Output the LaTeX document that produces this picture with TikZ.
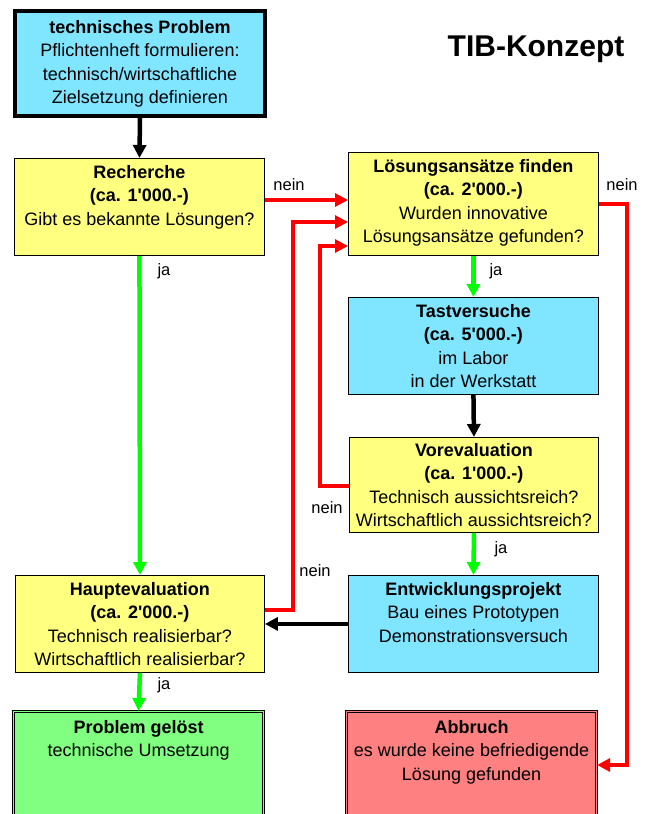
\documentclass[tikz,border=0pt]{standalone}
\usepackage{fontspec}
\setmainfont{Liberation Sans}
\usetikzlibrary{arrows.meta}
\definecolor{bcyan}{RGB}{128,229,255}
\definecolor{byellow}{RGB}{255,255,128}
\definecolor{bgreen}{RGB}{128,255,128}
\definecolor{bred}{RGB}{255,128,128}
\definecolor{lred}{RGB}{255,0,0}
\definecolor{lgreen}{RGB}{0,255,0}
\newcommand{\ap}{\textquotesingle}
\begin{document}
\begin{tikzpicture}[x=1pt,y=-1pt,
  boxbase/.style={rectangle,draw=black,line width=0.9pt,inner sep=0pt,anchor=north west},
  ybox/.style={boxbase,fill=byellow},
  cbox/.style={boxbase,fill=bcyan},
  dbox/.style={boxbase,line width=1.1pt,double distance=1.4pt},
  txt/.style={inner sep=0pt,anchor=north,align=center,font=\fontsize{18}{23.5}\selectfont},
  lab/.style={inner sep=0pt,anchor=base,font=\fontsize{16.5}{20}\selectfont},
  conn/.style={line width=4.5pt,-{Triangle[length=13pt,width=13pt]}},
  redc/.style={conn,draw=lred,color=lred},
  greenc/.style={conn,draw=lgreen,color=lgreen},
  blackc/.style={conn,draw=black}]
\useasboundingbox (0,0) rectangle (645,814);
\clip (0,0) rectangle (645,814);
\fill[white] (0,0) rectangle (645,814);

% boxes
\node[boxbase,fill=bcyan,line width=4pt,minimum width=250pt,minimum height=105pt] (prob) at (13,9) {};
\node[ybox,minimum width=250pt,minimum height=97pt] (rech) at (14,158) {};
\node[ybox,minimum width=250pt,minimum height=103pt] (loes) at (348,152) {};
\node[cbox,minimum width=250pt,minimum height=97pt] (tast) at (348,297) {};
\node[ybox,minimum width=249pt,minimum height=95pt] (vore) at (349,437) {};
\node[cbox,minimum width=250pt,minimum height=97pt] (entw) at (348,575) {};
\node[ybox,minimum width=249pt,minimum height=97pt] (haupt) at (15,575) {};
\node[dbox,fill=bgreen,double=bgreen,minimum width=250pt,minimum height=130pt] (geloest) at (13,711) {};
\node[dbox,fill=bred,double=bred,minimum width=250pt,minimum height=130pt] (abb) at (346,711) {};

% texts
\node[txt] (probT) at ([yshift=-11pt]prob.north) {\textbf{technisches Problem}\\Pflichtenheft formulieren:\\technisch/wirtschaftliche\\Zielsetzung definieren};
\node[txt] (rechT) at ([yshift=-7pt]rech.north) {\textbf{Recherche}\\\textbf{(ca. 1\ap000.-)}\\Gibt es bekannte Lösungen?};
\node[txt] (loesT) at ([yshift=-7pt]loes.north) {\textbf{Lösungsansätze finden}\\\textbf{(ca. 2\ap000.-)}\\Wurden innovative\\Lösungsansätze gefunden?};
\node[txt] (tastT) at ([yshift=-7pt]tast.north) {\textbf{Tastversuche}\\\textbf{(ca. 5\ap000.-)}\\im Labor\\in der Werkstatt};
\node[txt] (voreT) at ([yshift=-6pt]vore.north) {\textbf{Vorevaluation}\\\textbf{(ca. 1\ap000.-)}\\Technisch aussichtsreich?\\Wirtschaftlich aussichtsreich?};
\node[txt] (entwT) at ([yshift=-7pt]entw.north) {\textbf{Entwicklungsprojekt}\\Bau eines Prototypen\\Demonstrationsversuch};
\node[txt] (hauptT) at ([yshift=-7pt]haupt.north) {\textbf{Hauptevaluation}\\\textbf{(ca. 2\ap000.-)}\\Technisch realisierbar?\\Wirtschaftlich realisierbar?};
\node[txt] (geloestT) at ([yshift=-9pt]geloest.north) {\textbf{Problem gelöst}\\technische Umsetzung};
\node[txt] (abbT) at ([yshift=-9pt]abb.north) {\textbf{Abbruch}\\es wurde keine befriedigende\\Lösung gefunden};

\node[inner sep=0pt,anchor=base,font=\fontsize{30}{36}\selectfont\bfseries] (title) at (536,56) {TIB-Konzept};

% helper coordinates
\coordinate (y1) at (0,200);
\coordinate (y2) at (0,610);
\coordinate (c2) at (293,222);
\coordinate (y3) at (0,486);
\coordinate (c3) at (320,246);
\coordinate (c4) at (627,765);

% connectors
\draw[blackc] (prob.south) -- (rech.north);
\draw[greenc] (rech.south) -- (haupt.north);
\draw[redc] (rech.east |- y1) -- (loes.west |- y1);
\draw[redc] (haupt.east |- y2) -| (c2) -- (loes.west |- c2);
\draw[redc] (vore.west |- y3) -| (c3) -- (loes.west |- c3);
\draw[redc] (loes.east) -| (c4) -- (abb.east |- c4);
\draw[greenc] (loes.south) -- (tast.north);
\draw[blackc] (tast.south) -- (vore.north);
\draw[greenc] (vore.south) -- (entw.north);
\draw[blackc] (entw.west) -- (haupt.east);
\draw[greenc] (haupt.south) -- (geloest.north);

% labels
\node[lab] (l1) at (289,190) {nein};
\node[lab] (l2) at (164,275) {ja};
\node[lab] (l3) at (496,275) {ja};
\node[lab] (l4) at (622,190) {nein};
\node[lab] (l5) at (327,513) {nein};
\node[lab] (l6) at (501,553) {ja};
\node[lab] (l7) at (315,576) {nein};
\node[lab] (l8) at (164,689) {ja};
\end{tikzpicture}
\end{document}
